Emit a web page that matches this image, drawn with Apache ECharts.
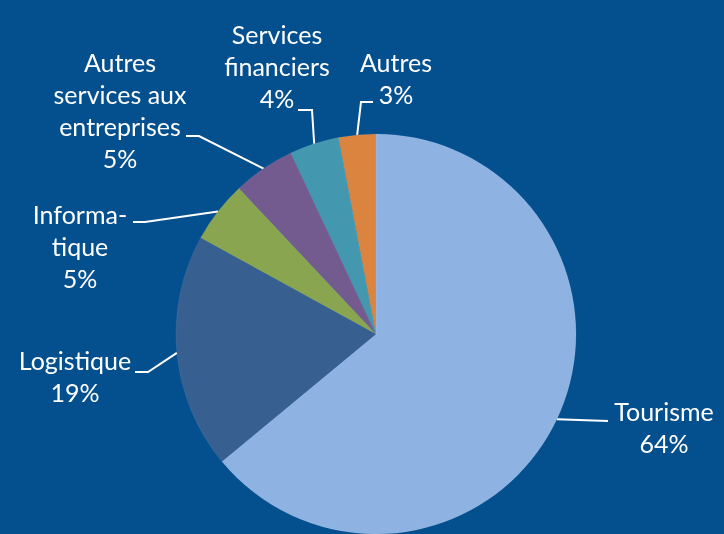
<!DOCTYPE html>
<html>
<head>
<meta charset="utf-8">
<script src="https://cdn.jsdelivr.net/npm/echarts@6/dist/echarts.min.js"></script>
<style>
  html, body { margin: 0; padding: 0; background: #04508f; }
  #chart { width: 724px; height: 534px; }
</style>
</head>
<body>
<div id="chart"></div>
<script>
// secteurs (ordre horaire depuis midi)
const categories = ['Tourisme', 'Logistique', 'Informa-\ntique', 'Autres\nservices aux\nentreprises', 'Services\nfinanciers', 'Autres']
const shares = [64, 19, 5, 5, 4, 3]
const colors = ['#8eb3e2', '#375f8f', '#8aa54f', '#735a8f', '#4397ae', '#da843f']

// label placement: text centre + elbow/end of the leader line
const labelSpots = [
  { x: 664, y: 429, elbow: [608, 421], end: [608, 421] },
  { x: 75, y: 378, elbow: [148, 372], end: [135, 372] },
  { x: 80, y: 248, elbow: [145, 222], end: [133, 222] },
  { x: 120, y: 112, elbow: [199, 136], end: [186, 136] },
  { x: 277, y: 68, elbow: [312, 110], end: [298, 110] },
  { x: 396, y: 80, elbow: [361, 102], end: [373, 102] }
]

const chart = echarts.init(document.getElementById('chart'))

chart.setOption({
  backgroundColor: '#04508f',
  animation: false,
  series: [{
    type: 'pie',
    center: [376, 334],
    radius: 200,
    startAngle: 90,
    clockwise: true,
    percentPrecision: 0,
    avoidLabelOverlap: false,
    data: categories.map((name, i) => ({
      name,
      value: shares[i],
      itemStyle: { color: colors[i] }
    })),
    itemStyle: {
      borderColor: 'rgba(255,255,255,0.15)',
      borderWidth: 0.5
    },
    label: {
      show: true,
      formatter: '{b}\n{d}%',
      color: '#ffffff',
      fontFamily: 'Lato',
      fontSize: 25,
      lineHeight: 32,
      align: 'center',
      overflow: 'none'
    },
    labelLine: {
      show: true,
      lineStyle: { color: '#ffffff', width: 2 }
    },
    emphasis: { disabled: true },
    labelLayout: function (params) {
      const s = labelSpots[params.dataIndex]
      const start = params.labelLinePoints ? params.labelLinePoints[0] : s.elbow
      return {
        x: s.x,
        y: s.y,
        align: 'center',
        verticalAlign: 'middle',
        labelLinePoints: [start, s.elbow, s.end]
      }
    }
  }]
})
</script>
</body>
</html>
